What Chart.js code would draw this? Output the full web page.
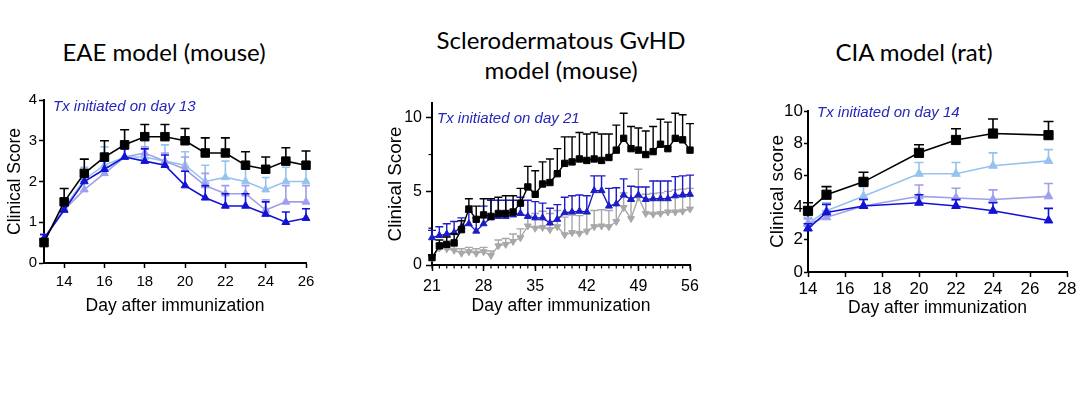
<!DOCTYPE html>
<html>
<head>
<meta charset="utf-8">
<script src="https://cdn.jsdelivr.net/npm/chart.js@4.4.0/dist/chart.umd.min.js"></script>
<style>
body { margin: 0; background: #fff; width: 1080px; height: 396px; position: relative; overflow: hidden; }
.titulo { position: absolute; width: 300px; text-align: center; font-family: Lato, sans-serif; font-size: 24px; line-height: 30px; color: #000; }
.nota { position: absolute; font-family: 'Liberation Sans', Arial, sans-serif; font-style: italic; font-size: 15px; line-height: 18px; color: #2626bc; white-space: nowrap; }
canvas { position: absolute; }
</style>
</head>
<body>
<div class="titulo" style="left:14px; top:37px;">EAE model (mouse)</div>
<div class="titulo" style="left:411px; top:25px;">Sclerodermatous GvHD<br>model (mouse)</div>
<div class="titulo" style="left:764px; top:37px;">CIA model (rat)</div>

<canvas id="grafico-eae" width="330" height="240" style="left:0px; top:80px;"></canvas>
<canvas id="grafico-gvhd" width="340" height="240" style="left:370px; top:80px;"></canvas>
<canvas id="grafico-cia" width="340" height="240" style="left:740px; top:80px;"></canvas>

<div class="nota" style="left:53px; top:97px;">Tx initiated on day 13</div>
<div class="nota" style="left:437px; top:109px;">Tx initiated on day 21</div>
<div class="nota" style="left:817px; top:103px;">Tx initiated on day 14</div>

<script>
// EAE (camundongo) - dias 13 a 26
const eaeDias = [13, 14, 15, 16, 17, 18, 19, 20, 21, 22, 23, 24, 25, 26];
const eaePreto = [0.5, 1.5, 2.2, 2.6, 2.9, 3.1, 3.1, 3.0, 2.7, 2.7, 2.4, 2.3, 2.5, 2.4];
const eaePretoErro = [0.1, 0.33, 0.35, 0.4, 0.37, 0.3, 0.3, 0.3, 0.37, 0.37, 0.33, 0.3, 0.33, 0.35];
const eaeAzulClaro = [0.6, 1.35, 2.05, 2.4, 2.6, 2.6, 2.5, 2.4, 2.0, 2.1, 2.0, 1.8, 2.0, 2.0];
const eaeAzulClaroErro = [0.1, 0.2, 0.3, 0.45, 0.4, 0.45, 0.4, 0.33, 0.4, 0.4, 0.33, 0.3, 0.35, 0.4];
const eaeLavanda = [0.6, 1.3, 1.8, 2.2, 2.6, 2.7, 2.5, 2.3, 1.9, 1.7, 1.7, 1.3, 1.5, 1.5];
const eaeLavandaErro = [0.1, 0.2, 0.25, 0.3, 0.3, 0.15, 0.2, 0.3, 0.3, 0.2, 0.2, 0.25, 0.4, 0.4];
const eaeAzulEscuro = [0.6, 1.3, 2.0, 2.3, 2.6, 2.5, 2.4, 1.9, 1.6, 1.4, 1.4, 1.2, 1.0, 1.1];
const eaeAzulEscuroErro = [0.1, 0.2, 0.2, 0.2, 0.2, 0.3, 0.25, 0.35, 0.3, 0.3, 0.3, 0.3, 0.25, 0.23];
const eaeTicksX = [14, 16, 18, 20, 22, 24, 26];
const eaeTicksY = [0, 1, 2, 3, 4];

// GvHD esclerodermatosa (camundongo) - dias 21 a 56
const gvhdDias = [21, 22, 23, 24, 25, 26, 27, 28, 29, 30, 31, 32, 33, 34, 35, 36, 37, 38, 39, 40, 41, 42, 43, 44, 45, 46, 47, 48, 49, 50, 51, 52, 53, 54, 55, 56];
const gvhdPreto = [0.5, 1.3, 1.4, 1.5, 2.4, 3.8, 3.1, 3.4, 3.3, 3.5, 3.5, 3.6, 4.2, 5.3, 4.8, 5.5, 5.6, 6.2, 6.9, 7.0, 7.2, 7.1, 7.2, 7.1, 7.3, 7.8, 8.6, 7.9, 7.8, 7.5, 7.7, 8.2, 7.9, 8.6, 8.5, 7.8];
const gvhdPretoErro = [0.2, 0.4, 0.5, 0.6, 0.6, 0.7, 0.9, 1.1, 1.2, 1.1, 1.2, 1.1, 1.0, 1.4, 1.6, 1.5, 1.6, 1.7, 1.8, 1.7, 1.8, 1.8, 1.8, 1.8, 1.6, 1.7, 1.7, 1.5, 1.5, 1.6, 1.7, 1.7, 1.8, 1.7, 1.7, 1.8];
const gvhdAzul = [1.85, 2.0, 2.1, 2.2, 2.6, 2.8, 2.3, 2.8, 3.2, 3.3, 3.3, 3.4, 3.5, 3.3, 3.2, 3.2, 2.85, 3.1, 3.55, 3.6, 3.65, 3.6, 5.05, 5.05, 4.0, 4.15, 4.75, 4.45, 4.75, 4.45, 4.5, 4.5, 4.5, 4.7, 4.75, 4.8];
const gvhdAzulErro = [0.5, 0.6, 0.7, 0.75, 0.6, 0.8, 0.9, 1.2, 1.2, 1.1, 1.1, 1.0, 1.1, 1.1, 1.1, 1.0, 1.0, 1.0, 1.05, 1.1, 1.1, 1.1, 1.0, 1.0, 1.2, 1.1, 1.1, 0.9, 0.55, 0.85, 1.2, 1.2, 1.2, 1.3, 1.3, 1.3];
const gvhdCinza = [0.5, 1.15, 1.1, 1.0, 0.8, 0.9, 0.8, 0.9, 0.65, 1.3, 1.4, 1.6, 1.85, 2.65, 2.5, 2.55, 2.4, 2.6, 2.05, 2.2, 2.15, 2.3, 2.6, 2.65, 2.6, 2.95, 3.9, 3.15, 4.6, 3.5, 3.45, 3.5, 3.6, 3.6, 3.65, 3.8];
const gvhdCinzaErro = [0.1, 0.3, 0.3, 0.3, 0.3, 0.3, 0.3, 0.3, 0.3, 0.4, 0.4, 0.5, 0.6, 0.7, 1.0, 1.1, 1.1, 1.1, 1.2, 1.2, 1.2, 1.2, 1.1, 1.1, 1.1, 1.1, 1.0, 1.2, 1.9, 1.3, 1.4, 1.4, 1.4, 1.5, 1.5, 1.4];
const gvhdTicksX = [21, 28, 35, 42, 49, 56];
const gvhdTicksY = [0, 5, 10];
const gvhdMenoresY = [2.5, 7.5];

// CIA (rato) - dias de avaliacao
const ciaDias = [14, 15, 17, 20, 22, 24, 27];
const ciaPreto = [3.8, 4.8, 5.6, 7.4, 8.2, 8.6, 8.5];
const ciaPretoErro = [0.5, 0.5, 0.6, 0.5, 0.7, 0.9, 0.85];
const ciaAzulClaro = [3.0, 3.8, 4.7, 6.1, 6.1, 6.6, 6.9];
const ciaAzulClaroErro = [0.4, 0.5, 0.6, 0.7, 0.7, 0.8, 0.7];
const ciaLavanda = [3.0, 3.4, 4.1, 4.7, 4.6, 4.5, 4.7];
const ciaLavandaErro = [0.3, 0.4, 0.4, 0.7, 0.6, 0.6, 0.8];
const ciaAzulEscuro = [2.7, 3.7, 4.1, 4.3, 4.1, 3.8, 3.2];
const ciaAzulEscuroErro = [0.3, 0.5, 0.4, 0.5, 0.4, 0.5, 0.75];
const ciaTicksX = [14, 16, 18, 20, 22, 24, 26, 28];
const ciaTicksY = [0, 2, 4, 6, 8, 10];

const PRETO = '#000000';
const AZUL_CLARO = '#96c3ee';
const LAVANDA = '#9f9fec';
const AZUL_ESCURO = '#1212d6';
const AZUL_GVHD = '#1c1cc8';
const CINZA = '#a8a8a8';

Chart.defaults.font.family = "'Liberation Sans', Arial, sans-serif";
Chart.defaults.color = '#000';

// barras de erro (so para cima) desenhadas antes de cada serie
const barrasErro = {
    id: 'barrasErro',
    beforeDatasetDraw(chart, args) {
        const ds = chart.data.datasets[args.index];
        if (!ds.erros) return;
        const ctx = chart.ctx;
        const escalaX = chart.scales.x;
        const escalaY = chart.scales.y;
        ctx.save();
        ctx.strokeStyle = ds.borderColor;
        ctx.lineWidth = ds.larguraErro;
        ds.data.forEach((p, i) => {
            const px = escalaX.getPixelForValue(p.x);
            const py = escalaY.getPixelForValue(p.y);
            const topo = escalaY.getPixelForValue(p.y + ds.erros[i]);
            ctx.beginPath();
            ctx.moveTo(px, py);
            ctx.lineTo(px, topo);
            ctx.moveTo(px - ds.capa, topo);
            ctx.lineTo(px + ds.capa, topo);
            ctx.stroke();
        });
        ctx.restore();
    }
};

// tracos menores nos eixos
const tracosMenores = {
    id: 'tracosMenores',
    afterDraw(chart, args, opts) {
        const ctx = chart.ctx;
        const area = chart.chartArea;
        ctx.save();
        ctx.strokeStyle = '#000';
        ctx.lineWidth = 1.2;
        (opts.x || []).forEach(v => {
            const px = chart.scales.x.getPixelForValue(v);
            ctx.beginPath();
            ctx.moveTo(px, area.bottom);
            ctx.lineTo(px, area.bottom + opts.tamanho);
            ctx.stroke();
        });
        (opts.y || []).forEach(v => {
            const py = chart.scales.y.getPixelForValue(v);
            ctx.beginPath();
            ctx.moveTo(area.left, py);
            ctx.lineTo(area.left - opts.tamanho, py);
            ctx.stroke();
        });
        ctx.restore();
    }
};

function serie(dias, valores, erros, cor, estilo, raio, larguraLinha, capa) {
    return {
        data: dias.map((d, i) => ({ x: d, y: valores[i] })),
        erros: erros,
        borderColor: cor,
        backgroundColor: cor,
        borderWidth: larguraLinha,
        pointStyle: estilo === 'invertido' ? 'triangle' : estilo,
        pointRotation: estilo === 'invertido' ? 180 : 0,
        pointRadius: raio,
        pointBorderWidth: 1,
        pointBackgroundColor: cor,
        pointBorderColor: cor,
        tension: 0,
        clip: false, // marcadores nas bordas aparecem inteiros
        larguraErro: larguraLinha,
        capa: capa
    };
}

function montarGrafico(id, series, cfg) {
    const contexto = document.getElementById(id).getContext('2d');
    new Chart(contexto, {
        type: 'line',
        data: { datasets: series },
        plugins: [barrasErro, tracosMenores],
        options: {
            responsive: false,
            animation: false,
            events: [],
            layout: { padding: cfg.padding },
            plugins: {
                legend: { display: false },
                tooltip: { enabled: false },
                tracosMenores: cfg.menores || {}
            },
            scales: {
                x: {
                    type: 'linear',
                    min: cfg.xMin,
                    max: cfg.xMax,
                    afterBuildTicks: s => { s.ticks = cfg.ticksX.map(v => ({ value: v })); },
                    afterFit: s => { s.height = cfg.alturaX; s.paddingLeft = 0; s.paddingRight = 0; },
                    grid: { drawOnChartArea: false, tickLength: cfg.tracoX, tickWidth: 1.5, tickColor: '#000' },
                    border: { color: '#000', width: 2 },
                    ticks: { color: '#000', font: { size: cfg.fonteTicks }, padding: cfg.padTicksX, maxRotation: 0 },
                    title: { display: true, text: 'Day after immunization', color: '#000', font: { size: cfg.fonteTituloX }, padding: { top: 0, bottom: cfg.padTituloX } }
                },
                y: {
                    min: 0,
                    max: cfg.yMax,
                    afterBuildTicks: s => { s.ticks = cfg.ticksY.map(v => ({ value: v })); },
                    afterFit: s => { s.width = cfg.larguraY; s.paddingTop = 0; s.paddingBottom = 0; },
                    grid: { drawOnChartArea: false, tickLength: cfg.tracoY, tickWidth: 1.5, tickColor: '#000' },
                    border: { color: '#000', width: 2 },
                    ticks: { color: '#000', font: { size: cfg.fonteTicks }, padding: cfg.padTicksY },
                    title: { display: true, text: cfg.tituloY, color: '#000', font: { size: cfg.fonteTituloY }, padding: { top: cfg.padTituloY, bottom: 0 } }
                }
            }
        }
    });
}

//GRÁFICO EAE
montarGrafico('grafico-eae', [
    serie(eaeDias, eaePreto, eaePretoErro, PRETO, 'rect', 6, 1.6, 4.5),
    serie(eaeDias, eaeAzulEscuro, eaeAzulEscuroErro, AZUL_ESCURO, 'triangle', 4.5, 1.6, 4),
    serie(eaeDias, eaeLavanda, eaeLavandaErro, LAVANDA, 'triangle', 4.5, 1.6, 4),
    serie(eaeDias, eaeAzulClaro, eaeAzulClaroErro, AZUL_CLARO, 'triangle', 4.5, 1.6, 4)
], {
    padding: { left: 0, right: 24, top: 20, bottom: 0 },
    xMin: 13, xMax: 26, yMax: 4,
    ticksX: eaeTicksX, ticksY: eaeTicksY,
    alturaX: 57, larguraY: 44,
    tracoX: 5, tracoY: 5,
    fonteTicks: 15, padTicksX: 5, padTicksY: 2,
    fonteTituloX: 17.5, padTituloX: 3,
    tituloY: 'Clinical Score', fonteTituloY: 17.5, padTituloY: 5
});

//GRÁFICO GVHD
montarGrafico('grafico-gvhd', [
    serie(gvhdDias, gvhdPreto, gvhdPretoErro, PRETO, 'rect', 4.5, 1.4, 4),
    serie(gvhdDias, gvhdAzul, gvhdAzulErro, AZUL_GVHD, 'triangle', 4, 1.4, 4),
    serie(gvhdDias, gvhdCinza, gvhdCinzaErro, CINZA, 'invertido', 4, 1.4, 4)
], {
    padding: { left: 0, right: 20, top: 23, bottom: 0 },
    xMin: 21, xMax: 56, yMax: 11,
    ticksX: gvhdTicksX, ticksY: gvhdTicksY,
    alturaX: 55, larguraY: 62,
    tracoX: 6, tracoY: 6,
    fonteTicks: 16, padTicksX: 6, padTicksY: 4,
    fonteTituloX: 17.5, padTituloX: 3,
    tituloY: 'Clinical Score', fonteTituloY: 18.8, padTituloY: 15,
    menores: { x: gvhdDias, y: gvhdMenoresY, tamanho: 3.5 }
});

//GRÁFICO CIA
montarGrafico('grafico-cia', [
    serie(ciaDias, ciaPreto, ciaPretoErro, PRETO, 'rect', 6.5, 1.6, 5),
    serie(ciaDias, ciaAzulEscuro, ciaAzulEscuroErro, AZUL_ESCURO, 'triangle', 5, 1.6, 4.5),
    serie(ciaDias, ciaLavanda, ciaLavandaErro, LAVANDA, 'triangle', 5, 1.6, 4.5),
    serie(ciaDias, ciaAzulClaro, ciaAzulClaroErro, AZUL_CLARO, 'triangle', 5, 1.6, 4.5)
], {
    padding: { left: 0, right: 13, top: 31, bottom: 0 },
    xMin: 14, xMax: 28, yMax: 10,
    ticksX: ciaTicksX, ticksY: ciaTicksY,
    alturaX: 48, larguraY: 68,
    tracoX: 5, tracoY: 4,
    fonteTicks: 17, padTicksX: 2, padTicksY: 1,
    fonteTituloX: 17.5, padTituloX: 1,
    tituloY: 'Clinical score', fonteTituloY: 19, padTituloY: 26
});
</script>
</body>
</html>
